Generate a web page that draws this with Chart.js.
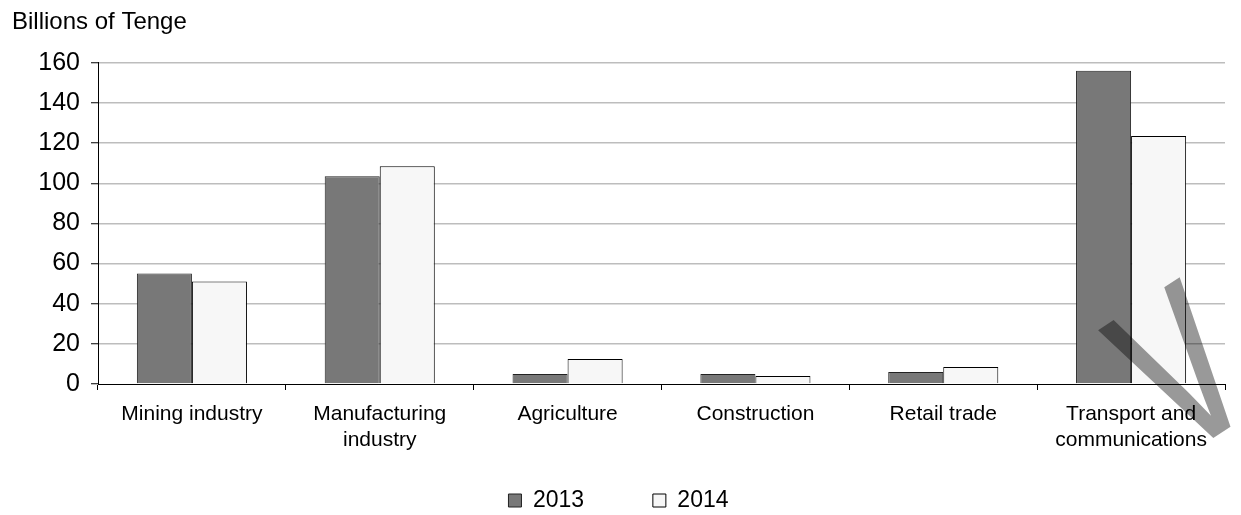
<!DOCTYPE html>
<html>
<head>
<meta charset="utf-8">
<script src="https://cdn.jsdelivr.net/npm/chart.js@4/dist/chart.umd.min.js"></script>
<style>
  html, body { margin: 0; padding: 0; background: #fff; }
  #wrap { width: 1241px; height: 515px; }
</style>
</head>
<body>
<div id="wrap"><canvas id="chart" width="1241" height="515"></canvas></div>
<script>
/* ---------- data ---------- */
const SECTORS = [
  "Mining industry",
  ["Manufacturing", "industry"],
  "Agriculture",
  "Construction",
  "Retail trade",
  ["Transport and", "communications"]
];
const VALUES_2013 = [55, 103.5, 5, 5, 6, 156];
const VALUES_2014 = [51, 108.5, 12.5, 4, 8.5, 123.5];
const Y_MIN = 0, Y_MAX = 160, Y_STEP = 20;

/* ---------- chart ---------- */
const FONT = "'Liberation Sans', Arial, sans-serif";
Chart.defaults.font.family = FONT;
Chart.defaults.color = "#000";

// legend items sit far apart: widen every label but the last with trailing spaces
const defaultLabels = Chart.defaults.plugins.legend.labels.generateLabels;
const spacedLabels = chart => defaultLabels(chart).map((item, i, all) =>
  i < all.length - 1 ? Object.assign(item, { text: item.text + "       " }) : item);

// faint grey stamp laid over the lower right corner
const stamp = {
  id: "stamp",
  afterDraw(chart) {
    const ctx = chart.ctx;
    ctx.save();
    ctx.translate(1181, 459);
    ctx.rotate(-33 * Math.PI / 180);
    ctx.scale(0.68, 1);
    ctx.font = "290px " + FONT;
    ctx.fillStyle = "rgba(0,0,0,0.4)";
    ctx.textBaseline = "alphabetic";
    ctx.fillText("v", 0, 0);
    ctx.restore();
  }
};

new Chart(document.getElementById("chart"), {
  type: "bar",
  data: {
    labels: SECTORS,
    datasets: [
      { label: "2013", data: VALUES_2013, backgroundColor: "#787878", borderColor: "#222", borderWidth: 1 },
      { label: "2014", data: VALUES_2014, backgroundColor: "#f7f7f7", borderColor: "#000", borderWidth: 1 }
    ]
  },
  plugins: [stamp],
  options: {
    responsive: false,
    animation: false,
    devicePixelRatio: 1,
    categoryPercentage: 0.586,
    barPercentage: 1,
    layout: { padding: { left: 12, right: 16, top: 0, bottom: -7 } },
    plugins: {
      tooltip: { enabled: false },
      title: {
        display: true,
        text: "Billions of Tenge",
        align: "start",
        color: "#000",
        font: { size: 24, weight: "normal" },
        padding: { top: 8, bottom: 26 }
      },
      legend: {
        position: "bottom",
        labels: {
          boxWidth: 13,
          boxHeight: 13,
          padding: 24,
          color: "#000",
          font: { size: 23 },
          generateLabels: spacedLabels
        }
      }
    },
    scales: {
      x: {
        grid: { drawOnChartArea: false, offset: true, tickLength: 6, color: "#000" },
        border: { color: "#000", width: 1 },
        ticks: { font: { size: 21 }, color: "#000", padding: 12, maxRotation: 0, autoSkip: false },
        afterFit: s => { s.height = 81; }
      },
      y: {
        min: Y_MIN,
        max: Y_MAX,
        ticks: { stepSize: Y_STEP, font: { size: 25 }, color: "#000", padding: 11 },
        grid: {
          color: c => c.tick && c.tick.value === 0 ? "rgba(0,0,0,0)" : "#bdbdbd",
          lineWidth: 1.5,
          tickColor: "#000",
          tickWidth: 1,
          tickLength: 7
        },
        border: { color: "#000", width: 1 },
        afterFit: s => { s.width = 86; }
      }
    }
  }
});
</script>
</body>
</html>
